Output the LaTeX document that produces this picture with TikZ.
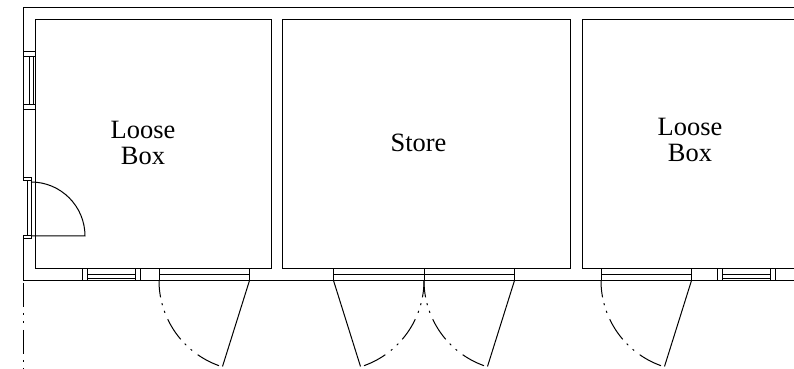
\documentclass[tikz,border=0pt]{standalone}
\usepackage{fontspec}
\setmainfont{Liberation Serif}
\usepackage{tikz}
\tikzset{
  wall/.style={line width=0.25mm, color=black},
  swing/.style={line width=0.25mm, color=black, dash pattern=on 6mm off 1.5mm on 0.5mm off 1.5mm on 0.5mm off 1.75mm, dash phase=1.75mm},
  centreline/.style={line width=0.25mm, color=black, dash pattern=on 6mm off 1.5mm on 0.5mm off 1.5mm on 0.5mm off 1.75mm},
  roomlabel/.style={align=center, font=\fontsize{18.8}{18.4}\selectfont}
}
\begin{document}
\begin{tikzpicture}[x=0.25mm, y=0.25mm]
			\useasboundingbox (0, 0) rectangle (794, 369);

			%%%%% WALLS %%%%%
			\draw[wall] (794, 361) -- (23.5, 361) -- (23.5, 317);
			\draw[wall] (23.5, 259) -- (23.5, 191);
			\draw[wall] (23.5, 133) -- (23.5, 88.5) -- (794, 88.5);
			\draw[wall] (271, 349.5) -- (35, 349.5) -- (35, 100) -- (271, 100) -- cycle;
			\draw[wall] (282, 349.5) rectangle (570.5, 100);
			\draw[wall] (794, 349.5) -- (582, 349.5) -- (582, 100) -- (794, 100);

			%%%%% LEFT WINDOW %%%%%
			\draw[wall, fill=white] (23.5, 317) rectangle (35, 259);
			\draw[wall] (23.5, 312) -- (35, 312);
			\draw[wall] (23.5, 264) -- (35, 264);
			\draw[wall] (29, 312) -- (29, 264);
			\draw[wall] (33, 312) -- (33, 264);

			%%%%% LEFT DOOR %%%%%
			\draw[wall, fill=white] (23.5, 191) rectangle (31, 188);
			\draw[wall, fill=white] (23.5, 133) rectangle (31, 130);
			\draw[wall, fill=white] (27, 188) rectangle (31, 133);
			\draw[wall] (31, 133) -- (85, 133) arc (0:90:54);

			%%%%% BOTTOM WINDOWS %%%%%
			\draw[wall, fill=white] (82, 100) rectangle (140, 88.5);
			\draw[wall] (87, 100) -- (87, 88.5);
			\draw[wall] (135, 100) -- (135, 88.5);
			\draw[wall] (87, 94) -- (135, 94);
			\draw[wall] (87, 90) -- (135, 90);

			\draw[wall, fill=white] (717, 100) rectangle (775, 88.5);
			\draw[wall] (722, 100) -- (722, 88.5);
			\draw[wall] (770, 100) -- (770, 88.5);
			\draw[wall] (722, 94) -- (770, 94);
			\draw[wall] (722, 90) -- (770, 90);

			%%%%% DOORWAYS %%%%%
			\draw[wall, fill=white] (159, 100) rectangle (249.5, 88.5);
			\draw[wall] (159, 94) -- (249.5, 94);
			\draw[wall, fill=white] (333.5, 100) rectangle (514.5, 88.5);
			\draw[wall] (333.5, 94) -- (514.5, 94);
			\draw[wall] (424, 100) -- (424, 88.5);
			\draw[wall, fill=white] (601, 100) rectangle (691.5, 88.5);
			\draw[wall] (601, 94) -- (691.5, 94);

			%%%%% SWINGS %%%%%
			\draw[wall] (249.5, 88.5) -- (222.5, 2.5);
			\draw[swing] (159, 88.5) arc (180:252.6:90.5);

			\draw[wall] (333.5, 88.5) -- (360.5, 2.5);
			\draw[swing] (424, 88.5) arc (360:287.4:90.5);
			\draw[wall] (514.5, 88.5) -- (487.5, 2.5);
			\draw[swing] (424, 88.5) arc (180:252.6:90.5);

			\draw[wall] (691.5, 88.5) -- (664.5, 2.5);
			\draw[swing] (601, 88.5) arc (180:252.6:90.5);

			\draw[centreline] (23.5, 86) -- (23.5, 0);

			%%%%% LABELS %%%%%
			\node[roomlabel] (leftbox) at (143, 226) {Loose\\Box};
			\node[roomlabel] (store) at (418.5, 226) {Store};
			\node[roomlabel] (rightbox) at (690, 229) {Loose\\Box};
		\end{tikzpicture}
\end{document}
